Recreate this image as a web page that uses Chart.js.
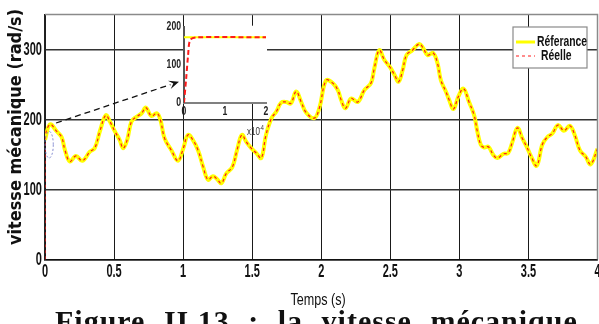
<!DOCTYPE html>
<html>
<head>
<meta charset="utf-8">
<script src="https://cdn.jsdelivr.net/npm/chart.js@4.4.0/dist/chart.umd.min.js"></script>
<style>
  html, body { margin: 0; padding: 0; background: #fff; overflow: hidden; }
  #wrap { position: relative; width: 599px; height: 324px; }
  #mainChart { position: absolute; left: 0; top: 0; }
  #zoomChart { position: absolute; left: 140px; top: 10px; }
  #caption {
    position: absolute; left: 55px; top: 304px; white-space: nowrap;
    font-family: 'Liberation Serif', serif; font-weight: bold; font-size: 30px;
    word-spacing: 10px; letter-spacing: 1px; color: #111;
  }
</style>
</head>
<body>
<div id="wrap">
  <canvas id="mainChart" width="599" height="324"></canvas>
  <canvas id="zoomChart" width="140" height="130"></canvas>
  <div id="caption">Figure&nbsp;II.13 : la vitesse mécanique</div>
</div>
<script>
// temps (s) et vitesse de référence (rad/s)
const temps = [0, 0.036, 0.085, 0.12, 0.145, 0.18, 0.224, 0.27, 0.325, 0.36, 0.40, 0.44, 0.47, 0.506, 0.54, 0.566, 0.595, 0.626, 0.663, 0.70,
  0.73, 0.77, 0.81, 0.836, 0.866, 0.915, 0.963, 1.00, 1.035, 1.07, 1.108, 1.144, 1.18, 1.216, 1.245, 1.277, 1.313, 1.356, 1.39, 1.425,
  1.457, 1.493, 1.53, 1.566, 1.60, 1.64, 1.674, 1.71, 1.746, 1.78, 1.818, 1.855, 1.89, 1.95, 1.987, 2.035, 2.083, 2.12, 2.144, 2.175,
  2.216, 2.264, 2.312, 2.36, 2.384, 2.42, 2.457, 2.497, 2.53, 2.56, 2.59, 2.617, 2.66, 2.71, 2.738, 2.77, 2.81, 2.842, 2.866, 2.902,
  2.926, 2.957, 2.993, 3.03, 3.07, 3.107, 3.13, 3.155, 3.18, 3.21, 3.247, 3.275, 3.32, 3.353, 3.384, 3.42, 3.456, 3.488, 3.52, 3.56,
  3.60, 3.637, 3.673, 3.714, 3.757, 3.80, 3.835, 3.873, 3.914, 3.95, 4.00];
const reference = [171, 193, 183, 175, 156, 140, 148, 141, 154, 159, 185, 206, 197, 183, 171, 159, 171, 197, 204, 209,
  217, 205, 209, 199, 173, 156, 141, 158, 178, 171, 156, 133, 114, 119, 115, 109, 123, 132, 156, 178,
  168, 159, 152, 145, 178, 202, 211, 224, 225, 223, 240, 225, 210, 202, 217, 256, 252, 242, 228, 216,
  230, 225, 242, 252, 273, 299, 285, 275, 264, 254, 271, 292, 299, 308, 302, 292, 295, 280, 256, 240,
  228, 215, 233, 244, 225, 206, 183, 164, 160, 161, 149, 145, 151, 152, 168, 188, 173, 161, 147, 134,
  164, 175, 180, 192, 184, 191, 178, 156, 147, 136, 158];
// la vitesse réelle suit la référence, après un démarrage depuis 0
const tempsReelle = [0, 0.00002].concat(temps.slice(1));
const reelle = [0, 171].concat(reference.slice(1));

const xTicks = [0, 0.5, 1, 1.5, 2, 2.5, 3, 3.5, 4];
const yTicks = [0, 100, 200, 300];

// zoom du démarrage (temps en x10^-4 s)
const zoomTemps = [0, 0.05, 0.1, 0.15, 0.3, 2];
const zoomReelle = [0, 60, 125, 165, 172, 172];
const zoomRefTemps = [0, 2];
const zoomRef = [172, 172];
const zoomXTicks = [0, 1, 2];
const zoomYTicks = [0, 100, 200];

// flèche et ellipse en coordonnées des données
const arrowFrom = [0.08, 195];
const arrowTo = [0.97, 254];
const ellipse = [0.03, 164, 0.03, 19];

const sans = "'Liberation Sans', Arial, sans-serif";

function pts(xs, ys) {
  return xs.map((x, i) => ({ x: x, y: ys[i] }));
}

// texte resserré horizontalement (police étroite de la figure)
function narrowText(ctx, text, x, y, font, sx, align) {
  ctx.save();
  ctx.font = font;
  ctx.textAlign = align || 'center';
  ctx.textBaseline = 'middle';
  ctx.translate(x, y);
  ctx.scale(sx, 1);
  ctx.fillText(text, 0, 0);
  ctx.restore();
}

// étiquettes des graduations, placées par les échelles du graphique
function drawTickLabels(chart, xs, ys, opt) {
  const ctx = chart.ctx;
  const a = chart.chartArea;
  ctx.fillStyle = opt.color;
  xs.forEach(v => {
    narrowText(ctx, String(v), chart.scales.x.getPixelForValue(v), a.bottom + opt.xOff, opt.font, opt.sx, 'center');
  });
  ys.forEach(v => {
    narrowText(ctx, String(v), a.left - opt.yOff, chart.scales.y.getPixelForValue(v), opt.font, opt.sx, 'right');
  });
}

// cadre, flèche, ellipse, légende et titres d'axes
const decorPlugin = {
  id: 'decor',
  afterDatasetsDraw(chart) {
    const ctx = chart.ctx;
    const a = chart.chartArea;
    const xs = chart.scales.x, ys = chart.scales.y;
    ctx.save();
    // cadre haut et droit
    ctx.strokeStyle = '#8a8a8a';
    ctx.lineWidth = 1.5;
    ctx.beginPath();
    ctx.moveTo(a.left, a.top); ctx.lineTo(a.right, a.top); ctx.lineTo(a.right, a.bottom);
    ctx.stroke();

    // ellipse bleue pointillée
    const ex = xs.getPixelForValue(ellipse[0]), ey = ys.getPixelForValue(ellipse[1]);
    const rx = xs.getPixelForValue(ellipse[0] + ellipse[2]) - ex;
    const ry = ey - ys.getPixelForValue(ellipse[1] + ellipse[3]);
    ctx.strokeStyle = '#6f78c8';
    ctx.lineWidth = 0.9;
    ctx.setLineDash([2, 2]);
    ctx.beginPath();
    ctx.ellipse(ex, ey, rx, ry, 0, 0, Math.PI * 2);
    ctx.stroke();

    // flèche pointillée
    const x1 = xs.getPixelForValue(arrowFrom[0]), y1 = ys.getPixelForValue(arrowFrom[1]);
    const x2 = xs.getPixelForValue(arrowTo[0]), y2 = ys.getPixelForValue(arrowTo[1]);
    const ang = Math.atan2(y2 - y1, x2 - x1);
    ctx.strokeStyle = '#111';
    ctx.lineWidth = 1.3;
    ctx.setLineDash([6, 4]);
    ctx.beginPath();
    ctx.moveTo(x1, y1);
    ctx.lineTo(x2 - 9 * Math.cos(ang), y2 - 9 * Math.sin(ang));
    ctx.stroke();
    ctx.setLineDash([]);
    ctx.fillStyle = '#111';
    ctx.beginPath();
    ctx.moveTo(x2, y2);
    ctx.lineTo(x2 - 11 * Math.cos(ang - 0.4), y2 - 11 * Math.sin(ang - 0.4));
    ctx.lineTo(x2 - 6 * Math.cos(ang), y2 - 6 * Math.sin(ang));
    ctx.lineTo(x2 - 11 * Math.cos(ang + 0.4), y2 - 11 * Math.sin(ang + 0.4));
    ctx.closePath();
    ctx.fill();

    // légende
    const lx = 513, ly = 27, lw = 74, lh = 41;
    ctx.fillStyle = '#fff';
    ctx.fillRect(lx, ly, lw, lh);
    ctx.strokeStyle = '#8a8a8a';
    ctx.lineWidth = 1.2;
    ctx.strokeRect(lx, ly, lw, lh);
    const ds = chart.data.datasets;
    ctx.strokeStyle = ds[0].borderColor;
    ctx.lineWidth = 3;
    ctx.beginPath(); ctx.moveTo(lx + 3, ly + 15); ctx.lineTo(lx + 22, ly + 15); ctx.stroke();
    ctx.strokeStyle = ds[1].borderColor;
    ctx.lineWidth = 1;
    ctx.setLineDash([3, 3]);
    ctx.beginPath(); ctx.moveTo(lx + 3, ly + 29); ctx.lineTo(lx + 22, ly + 29); ctx.stroke();
    ctx.setLineDash([]);
    ctx.fillStyle = '#111';
    narrowText(ctx, ds[0].label, lx + 24, ly + 15, 'bold 14px ' + sans, 0.74, 'left');
    narrowText(ctx, ds[1].label, lx + 28, ly + 29, 'bold 14px ' + sans, 0.74, 'left');

    // graduations
    drawTickLabels(chart, xTicks, yTicks, { font: 'bold 19px ' + sans, sx: 0.58, color: '#111', xOff: 12, yOff: 3 });

    // titres des axes
    ctx.fillStyle = '#111';
    ctx.font = 'bold 17px "DejaVu Sans", sans-serif';
    ctx.textAlign = 'center';
    ctx.textBaseline = 'middle';
    ctx.save();
    ctx.translate(17, 127);
    ctx.rotate(-Math.PI / 2);
    ctx.scale(0.95, 1);
    ctx.fillText('vitesse mécanique (rad/s)', 0, 0);
    ctx.restore();
    narrowText(ctx, 'Temps (s)', 318, 300, '17px ' + sans, 0.74, 'center');
    ctx.restore();
  }
};

function renderMainChart() {
  const ctx = document.getElementById('mainChart').getContext('2d');
  new Chart(ctx, {
    type: 'line',
    data: {
      datasets: [{
        label: 'Réferance',
        data: pts(temps, reference),
        borderColor: '#ffff00',
        borderWidth: 4,
        pointRadius: 0,
        tension: 0.4,
        order: 2
      }, {
        label: 'Réelle',
        data: pts(tempsReelle, reelle),
        borderColor: '#ff1a1a',
        borderWidth: 1.2,
        borderDash: [3, 3],
        pointRadius: 0,
        tension: 0.4,
        order: 1
      }]
    },
    options: {
      responsive: false,
      animation: false,
      layout: { padding: { left: 0, right: 1.5, top: 14.5, bottom: 0 } },
      plugins: { legend: { display: false }, tooltip: { enabled: false } },
      scales: {
        x: {
          type: 'linear', min: 0, max: 4,
          afterBuildTicks: s => { s.ticks = xTicks.map(v => ({ value: v })); },
          afterFit: s => { s.height = 64.5; },
          grid: { color: '#1a1a1a', lineWidth: 1, drawTicks: false },
          border: { color: '#111', width: 1.5 },
          ticks: { display: false }
        },
        y: {
          min: 0, max: 350,
          afterBuildTicks: s => { s.ticks = yTicks.map(v => ({ value: v })); },
          afterFit: s => { s.width = 45; },
          grid: { color: '#333', lineWidth: 1.6, drawTicks: false },
          border: { color: '#222', width: 1.5 },
          ticks: { display: false }
        }
      }
    },
    plugins: [decorPlugin]
  });
}

// fond blanc du zoom, graduations et facteur d'échelle x10^-4
const zoomPlugin = {
  id: 'zoomDecor',
  beforeDraw(chart) {
    const a = chart.chartArea;
    chart.ctx.save();
    chart.ctx.fillStyle = '#fff';
    chart.ctx.fillRect(a.left, a.top - 1, a.right - a.left + 1, a.bottom - a.top + 1);
    chart.ctx.restore();
  },
  afterDraw(chart) {
    const ctx = chart.ctx;
    ctx.save();
    drawTickLabels(chart, zoomXTicks, zoomYTicks, { font: 'bold 12px ' + sans, sx: 0.72, color: '#222', xOff: 9, yOff: 3 });
    ctx.fillStyle = '#333';
    narrowText(ctx, 'x10', 107, 122, '10px ' + sans, 0.8, 'left');
    narrowText(ctx, '-4', 119, 118, '7px ' + sans, 0.8, 'left');
    ctx.restore();
  }
};

function renderZoomChart() {
  const ctx = document.getElementById('zoomChart').getContext('2d');
  new Chart(ctx, {
    type: 'line',
    data: {
      datasets: [{
        data: pts(zoomRefTemps, zoomRef),
        borderColor: '#ffff00',
        borderWidth: 2,
        pointRadius: 0,
        order: 2
      }, {
        data: pts(zoomTemps, zoomReelle),
        borderColor: '#ff1a1a',
        borderWidth: 2,
        borderDash: [5, 3],
        pointRadius: 0,
        tension: 0.3,
        order: 1
      }]
    },
    options: {
      responsive: false,
      animation: false,
      layout: { padding: { left: 0, right: 14, top: 16.7, bottom: 0 } },
      plugins: { legend: { display: false }, tooltip: { enabled: false } },
      scales: {
        x: {
          type: 'linear', min: 0, max: 2,
          afterBuildTicks: s => { s.ticks = zoomXTicks.map(v => ({ value: v })); },
          afterFit: s => { s.height = 37.3; },
          grid: { display: false },
          border: { color: '#808080', width: 2 },
          ticks: { display: false }
        },
        y: {
          min: 0, max: 200,
          afterBuildTicks: s => { s.ticks = zoomYTicks.map(v => ({ value: v })); },
          afterFit: s => { s.width = 44; },
          grid: { display: false },
          border: { color: '#555', width: 2 },
          ticks: { display: false }
        }
      }
    },
    plugins: [zoomPlugin]
  });
}

renderMainChart();
renderZoomChart();
</script>
</body>
</html>
